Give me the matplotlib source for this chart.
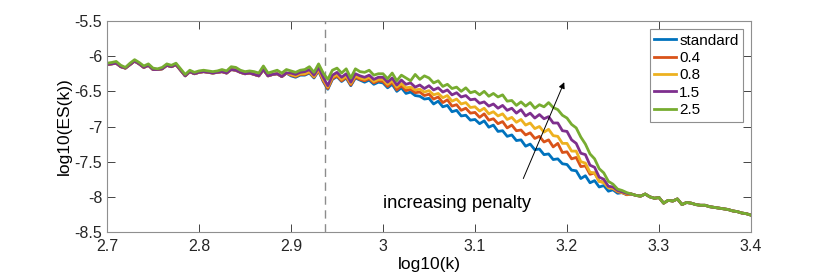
import numpy as np
import matplotlib
matplotlib.use("Agg")
import matplotlib.pyplot as plt
from matplotlib.ticker import FuncFormatter

plt.rcParams['font.family'] = ['Liberation Sans', 'DejaVu Sans']

# ---- data ----
labels = ["standard", "0.4", "0.8", "1.5", "2.5"]
colors = ["#0072BD", "#D95319", "#EDB120", "#7E2F8E", "#77AC30"]

# x grid: log10(k) from 2.700 to 3.400, step 0.005
log10k = np.round(np.arange(2.700, 3.4001, 0.005), 3)

# 2.700 .. 2.895 (40 points)
head_green = [-6.10, -6.09, -6.075, -6.13, -6.16, -6.10, -6.05, -6.09, -6.14, -6.11,
              -6.17, -6.18, -6.16, -6.11, -6.13, -6.10, -6.18, -6.26, -6.20, -6.23,
              -6.21, -6.20, -6.21, -6.22, -6.21, -6.19, -6.21, -6.15, -6.16, -6.20,
              -6.22, -6.21, -6.22, -6.24, -6.14, -6.24, -6.22, -6.20, -6.24, -6.19]
head_base = [-6.12, -6.11, -6.10, -6.15, -6.17, -6.12, -6.07, -6.11, -6.16, -6.13,
             -6.19, -6.19, -6.18, -6.13, -6.15, -6.12, -6.20, -6.28, -6.22, -6.25,
             -6.23, -6.22, -6.23, -6.24, -6.23, -6.22, -6.24, -6.19, -6.20, -6.23,
             -6.25, -6.24, -6.26, -6.28, -6.19, -6.28, -6.26, -6.25, -6.29, -6.24]

# 2.900 .. 3.265 (74 points)
mid_standard = [-6.28, -6.30, -6.27, -6.27, -6.24, -6.31, -6.21, -6.36, -6.47, -6.33,
                -6.29, -6.36, -6.31, -6.42, -6.31, -6.34, -6.37, -6.34, -6.40, -6.37,
                -6.38, -6.45, -6.40, -6.50, -6.45, -6.53, -6.51, -6.56, -6.57, -6.61,
                -6.60, -6.68, -6.64, -6.72, -6.70, -6.79, -6.77, -6.85, -6.84, -6.91,
                -6.90, -6.96, -6.92, -7.01, -6.98, -7.07, -7.06, -7.14, -7.12, -7.20,
                -7.19, -7.28, -7.25, -7.33, -7.32, -7.40, -7.39, -7.47, -7.46, -7.53,
                -7.54, -7.62, -7.63, -7.74, -7.70, -7.80, -7.77, -7.86, -7.84, -7.92,
                -7.90, -7.95, -7.94, -7.97]
mid_04 = [-6.27, -6.29, -6.26, -6.26, -6.23, -6.30, -6.20, -6.35, -6.46, -6.32,
          -6.28, -6.35, -6.30, -6.41, -6.30, -6.33, -6.35, -6.32, -6.38, -6.35,
          -6.36, -6.43, -6.37, -6.48, -6.42, -6.49, -6.47, -6.52, -6.51, -6.56,
          -6.54, -6.61, -6.58, -6.66, -6.62, -6.71, -6.69, -6.77, -6.74, -6.81,
          -6.80, -6.87, -6.82, -6.91, -6.89, -6.96, -6.93, -7.02, -6.98, -7.06,
          -7.05, -7.12, -7.09, -7.17, -7.14, -7.22, -7.19, -7.29, -7.24, -7.37,
          -7.36, -7.46, -7.44, -7.57, -7.56, -7.68, -7.66, -7.78, -7.79, -7.87,
          -7.88, -7.93, -7.94, -7.97]
mid_08 = [-6.26, -6.28, -6.25, -6.25, -6.22, -6.29, -6.19, -6.33, -6.44, -6.30,
          -6.26, -6.33, -6.28, -6.39, -6.28, -6.31, -6.33, -6.30, -6.36, -6.33,
          -6.33, -6.40, -6.35, -6.44, -6.39, -6.45, -6.44, -6.48, -6.47, -6.51,
          -6.49, -6.55, -6.53, -6.59, -6.56, -6.64, -6.61, -6.68, -6.66, -6.73,
          -6.72, -6.78, -6.74, -6.82, -6.79, -6.85, -6.82, -6.90, -6.87, -6.94,
          -6.90, -6.98, -6.95, -7.03, -7.00, -7.08, -7.04, -7.13, -7.14, -7.24,
          -7.24, -7.35, -7.35, -7.50, -7.52, -7.65, -7.66, -7.78, -7.80, -7.87,
          -7.88, -7.92, -7.94, -7.96]
mid_15 = [-6.24, -6.26, -6.23, -6.22, -6.19, -6.27, -6.16, -6.30, -6.42, -6.27,
          -6.23, -6.30, -6.25, -6.37, -6.25, -6.28, -6.30, -6.27, -6.33, -6.30,
          -6.30, -6.37, -6.31, -6.41, -6.34, -6.40, -6.38, -6.44, -6.41, -6.46,
          -6.42, -6.48, -6.45, -6.51, -6.48, -6.55, -6.52, -6.58, -6.56, -6.62,
          -6.61, -6.67, -6.65, -6.71, -6.68, -6.74, -6.70, -6.77, -6.74, -6.81,
          -6.76, -6.85, -6.81, -6.88, -6.83, -6.89, -6.86, -6.95, -6.95, -7.06,
          -7.07, -7.19, -7.24, -7.38, -7.40, -7.55, -7.58, -7.72, -7.75, -7.85,
          -7.86, -7.91, -7.93, -7.95]
mid_25 = [-6.21, -6.23, -6.20, -6.19, -6.15, -6.23, -6.11, -6.24, -6.33, -6.20,
          -6.17, -6.24, -6.18, -6.31, -6.18, -6.22, -6.23, -6.20, -6.27, -6.25,
          -6.25, -6.32, -6.24, -6.35, -6.27, -6.31, -6.35, -6.26, -6.33, -6.28,
          -6.31, -6.38, -6.35, -6.43, -6.40, -6.46, -6.44, -6.50, -6.45, -6.52,
          -6.50, -6.55, -6.50, -6.57, -6.53, -6.58, -6.55, -6.64, -6.63, -6.70,
          -6.65, -6.71, -6.66, -6.74, -6.69, -6.72, -6.66, -6.73, -6.76, -6.84,
          -6.88, -6.97, -7.02, -7.15, -7.25, -7.39, -7.46, -7.60, -7.66, -7.78,
          -7.82, -7.89, -7.91, -7.94]

# 3.270 .. 3.400 (27 points), curves coincide
tail = [-7.96, -7.98, -7.99, -7.96, -8.00, -8.02, -8.01, -8.09, -8.05, -8.06,
        -8.03, -8.11, -8.08, -8.09, -8.11, -8.12, -8.12, -8.14, -8.15, -8.16,
        -8.17, -8.18, -8.20, -8.21, -8.23, -8.24, -8.26]

series = [
    head_base + mid_standard + tail,
    head_base + mid_04 + tail,
    head_base + mid_08 + tail,
    head_base + mid_15 + tail,
    head_green + mid_25 + tail,
]

xticks = [2.7, 2.8, 2.9, 3.0, 3.1, 3.2, 3.3, 3.4]
yticks = [-8.5, -8, -7.5, -7, -6.5, -6, -5.5]
cutoff = 2.937
arrow_tail = (3.1525, -7.74)
arrow_head = (3.197, -6.37)
note_text = "increasing penalty"
note_pos = (3.0, -8.1)

# ---- figure ----
fig = plt.figure(figsize=(8.30, 2.77), dpi=100)
ax = fig.add_axes([107/830, 1-232/277, 644/830, 211/277])

ax.axvline(cutoff, color="#8c8c8c", ls=(0, (6, 4)), lw=1.0, zorder=1)
for y, lab, c in zip(series, labels, colors):
    ax.plot(log10k, y, color=c, lw=2.0, label=lab, zorder=2)

ax.annotate("", xy=arrow_head, xytext=arrow_tail,
            arrowprops=dict(arrowstyle="-|>", color="black", lw=0.7,
                            mutation_scale=9, shrinkA=0, shrinkB=0))
ax.text(note_pos[0], note_pos[1], note_text, fontsize=13.2, ha="left", va="center")

ax.set_xlim(2.7, 3.4)
ax.set_ylim(-8.5, -5.5)
ax.set_xticks(xticks)
ax.set_yticks(yticks)
fmt = FuncFormatter(lambda v, p: ("%g" % v))
ax.xaxis.set_major_formatter(fmt)
ax.yaxis.set_major_formatter(fmt)
ax.tick_params(direction="in", length=5.5, width=0.6, colors="#262626",
               labelsize=11.5, top=True, right=True)
ax.tick_params(axis="x", pad=5)
ax.tick_params(axis="y", pad=3.5)
for s in ax.spines.values():
    s.set_color("#8f8f8f")
    s.set_linewidth(0.8)
ax.set_xlabel("log10(k)", fontsize=12.5, labelpad=2)
ax.set_ylabel("log10(ES(k))", fontsize=12.5, labelpad=2)

leg = ax.legend(loc="upper right", bbox_to_anchor=(0.988, 0.962), fontsize=11,
                handlelength=1.45, handletextpad=0.2, labelspacing=0.22,
                borderpad=0.3, borderaxespad=0, fancybox=False, framealpha=1)
leg.get_frame().set_edgecolor("#8f8f8f")
leg.get_frame().set_linewidth(0.8)

fig.savefig("out.png", dpi=100)
